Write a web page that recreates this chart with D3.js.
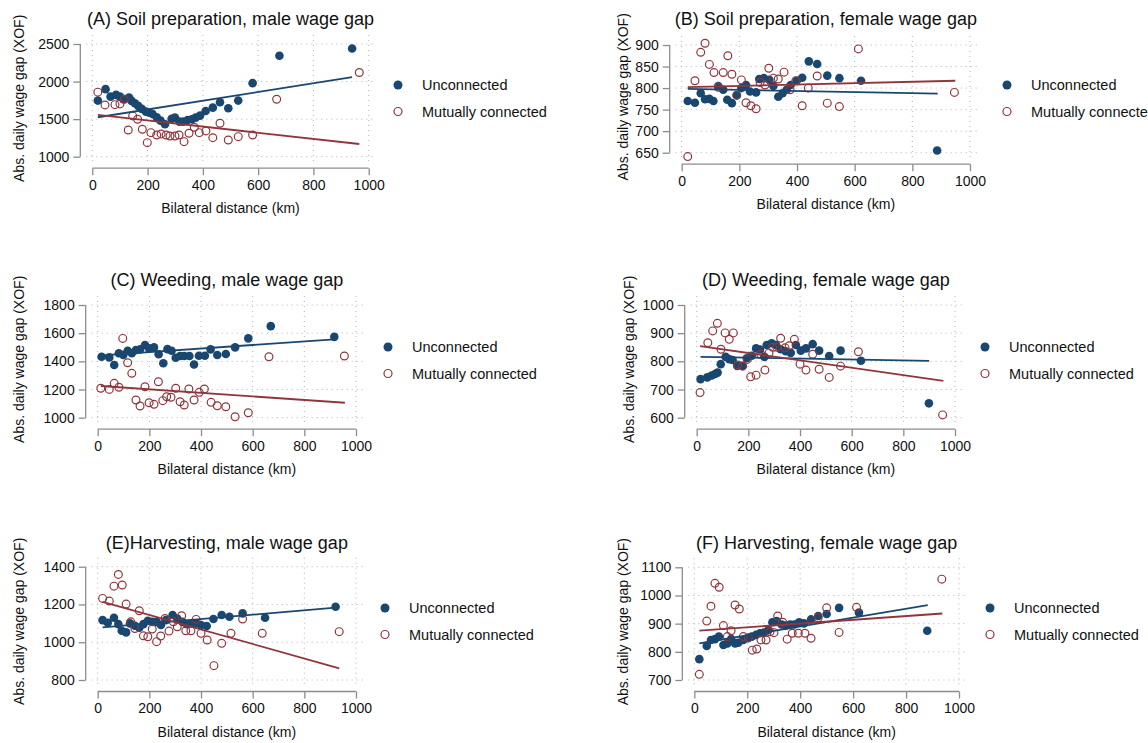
<!DOCTYPE html>
<html><head><meta charset="utf-8">
<script src="https://cdn.jsdelivr.net/npm/d3@7"></script>
<style>
body{margin:0;background:#fff}
svg text{font-family:Arial,"Liberation Sans",sans-serif;fill:#111}
</style>
</head><body>
<svg id="chart" width="1148" height="743"></svg>
<script>
// ---------------- DATA ----------------
const seriesNames = ["Unconnected", "Mutually connected"];
const xTicks = [0, 200, 400, 600, 800, 1000];
const xTitle = "Bilateral distance (km)";
const yTitle = "Abs. daily wage gap (XOF)";
const panelTitles = ["(A) Soil preparation, male wage gap", "(B) Soil preparation, female wage gap",
  "(C) Weeding, male wage gap", "(D) Weeding, female wage gap",
  "(E)Harvesting, male wage gap", "(F) Harvesting, female wage gap"];

const yTicksA = [1000, 1500, 2000, 2500];
const yTicksB = [650, 700, 750, 800, 850, 900];
const yTicksC = [1000, 1200, 1400, 1600, 1800];
const yTicksD = [600, 700, 800, 900, 1000];
const yTicksE = [800, 1000, 1200, 1400];
const yTicksF = [700, 800, 900, 1000, 1100];

const A_unconnected = [[20,1747],[48,1899],[66,1800],[86,1823],[100,1800],[112,1765],[133,1787],[142,1743],[154,1712],[166,1676],[179,1636],[194,1600],[206,1587],[218,1569],[233,1525],[247,1480],[263,1432],[287,1503],[299,1520],[315,1467],[329,1467],[345,1489],[360,1499],[374,1520],[390,1547],[410,1609],[436,1653],[462,1725],[492,1645],[528,1747],[580,1979],[677,2343],[940,2440]];
const A_mutual = [[20,1859],[46,1689],[82,1693],[100,1703],[116,1765],[130,1356],[146,1543],[164,1499],[181,1365],[199,1187],[212,1320],[233,1289],[249,1303],[267,1289],[281,1276],[299,1276],[314,1289],[332,1200],[350,1312],[369,1392],[387,1320],[411,1343],[436,1253],[462,1445],[492,1223],[528,1267],[580,1289],[667,1765],[966,2120]];
const A_fitUnconnected = [[20,1525],[940,2059]];
const A_fitMutual = [[20,1556],[966,1169]];

const B_unconnected = [[21,770],[46,766],[66,788],[81,774],[96,775],[110,770],[127,805],[144,796],[158,773],[174,765],[191,784],[207,800],[223,807],[237,792],[258,790],[269,821],[285,823],[304,819],[318,805],[335,780],[350,788],[364,796],[378,807],[399,817],[418,824],[441,862],[470,856],[505,829],[547,823],[622,817],[886,655]];
const B_mutual = [[21,641],[46,817],[66,883],[81,904],[96,855],[112,836],[127,802],[144,836],[160,875],[174,832],[191,783],[207,819],[223,766],[240,759],[258,752],[272,813],[289,807],[302,846],[318,823],[335,821],[355,837],[376,796],[396,817],[418,759],[439,800],[470,828],[505,765],[547,757],[613,891],[946,790]];
const B_fitUnconnected = [[21,798],[888,787]];
const B_fitMutual = [[21,802],[949,817]];

const C_unconnected = [[15,1433],[45,1428],[64,1374],[82,1457],[99,1445],[116,1475],[132,1457],[148,1480],[164,1485],[183,1516],[199,1492],[218,1499],[236,1450],[254,1386],[270,1487],[286,1475],[302,1426],[319,1438],[335,1438],[355,1438],[373,1378],[392,1440],[415,1440],[437,1485],[463,1445],[496,1452],[532,1499],[583,1563],[670,1650],[916,1574]];
const C_mutual = [[12,1209],[45,1201],[64,1244],[82,1216],[97,1563],[116,1390],[132,1315],[148,1126],[164,1083],[183,1220],[199,1106],[218,1095],[235,1255],[252,1121],[267,1149],[284,1145],[302,1209],[319,1113],[335,1090],[353,1204],[373,1126],[393,1180],[413,1204],[439,1109],[463,1085],[496,1078],[532,1007],[583,1035],[663,1433],[955,1438]];
const C_fitUnconnected = [[15,1443],[916,1556]];
const C_fitMutual = [[12,1225],[957,1106]];

const D_unconnected = [[15,737],[41,743],[58,750],[71,755],[81,760],[93,790],[112,816],[126,808],[139,805],[157,784],[177,784],[194,811],[213,820],[230,846],[245,842],[262,816],[271,858],[290,864],[307,858],[325,843],[345,836],[364,830],[384,858],[403,838],[423,846],[449,861],[474,838],[513,819],[557,838],[636,802],[899,651]];
const D_mutual = [[13,689],[43,866],[62,908],[80,935],[94,843],[110,901],[126,878],[142,901],[159,787],[178,783],[196,807],[209,745],[230,751],[248,825],[264,769],[280,830],[294,850],[310,850],[325,882],[342,848],[358,855],[378,878],[400,790],[423,769],[449,825],[474,772],[513,743],[557,783],[626,834],[952,610]];
const D_fitUnconnected = [[15,816],[900,802]];
const D_fitMutual = [[13,854],[955,731]];

const E_unconnected = [[19,1117],[39,1103],[63,1130],[80,1096],[93,1061],[110,1052],[125,1100],[144,1087],[161,1077],[177,1096],[194,1114],[211,1108],[228,1108],[245,1091],[264,1117],[290,1144],[308,1126],[328,1108],[345,1096],[361,1100],[381,1100],[400,1091],[422,1086],[448,1123],[480,1144],[510,1135],[561,1153],[648,1130],[921,1188]];
const E_mutual = [[19,1232],[45,1218],[63,1297],[80,1359],[95,1303],[110,1202],[128,1108],[144,1073],[161,1167],[177,1034],[194,1029],[211,1070],[228,1003],[244,1033],[261,1126],[276,1059],[293,1108],[308,1082],[325,1140],[341,1061],[361,1061],[381,1121],[400,1047],[424,1012],[450,876],[480,994],[516,1047],[561,1123],[637,1047],[935,1056]];
const E_fitUnconnected = [[19,1079],[921,1183]];
const E_fitMutual = [[19,1214],[935,862]];

const F_unconnected = [[19,774],[47,821],[63,842],[78,845],[93,854],[110,824],[125,830],[139,845],[154,830],[166,832],[185,842],[202,848],[217,854],[233,860],[248,866],[263,868],[280,877],[295,905],[311,909],[330,897],[345,893],[362,897],[378,897],[396,905],[414,901],[441,915],[468,927],[500,934],[547,956],[622,939],[880,875]];
const F_mutual = [[19,720],[47,909],[63,962],[78,1043],[94,1029],[110,893],[125,854],[139,875],[154,966],[170,952],[185,854],[204,850],[219,806],[236,810],[252,842],[271,842],[286,871],[301,868],[315,927],[334,905],[351,845],[370,866],[393,866],[418,866],[441,848],[468,921],[500,956],[547,869],[613,958],[935,1058]];
const F_fitUnconnected = [[19,830],[882,966]];
const F_fitMutual = [[19,875],[937,936]];

// ---------------- LAYOUT ----------------
const BLUE = "#1a476f", RED = "#90353b";
const panels = [
  {title: panelTitles[0], yTicks: yTicksA, unc: A_unconnected, mut: A_mutual, fu: A_fitUnconnected, fm: A_fitMutual,
   xr: [92.3, 368.7], yr: [156.7, 44], titleY: 25, yTitleX: 24, legX: 398, legY: 85},
  {title: panelTitles[1], yTicks: yTicksB, unc: B_unconnected, mut: B_mutual, fu: B_fitUnconnected, fm: B_fitMutual,
   xr: [681.7, 970], yr: [152.7, 45], titleY: 25, yTitleX: 628, legX: 1007, legY: 85},
  {title: panelTitles[2], yTicks: yTicksC, unc: C_unconnected, mut: C_mutual, fu: C_fitUnconnected, fm: C_fitMutual,
   xr: [97.7, 356], yr: [417.7, 305], titleY: 286, yTitleX: 24, legX: 388, legY: 347},
  {title: panelTitles[3], yTicks: yTicksD, unc: D_unconnected, mut: D_mutual, fu: D_fitUnconnected, fm: D_fitMutual,
   xr: [696.7, 955], yr: [417.7, 305], titleY: 286, yTitleX: 634, legX: 985, legY: 347},
  {title: panelTitles[4], yTicks: yTicksE, unc: E_unconnected, mut: E_mutual, fu: E_fitUnconnected, fm: E_fitMutual,
   xr: [97.7, 356], yr: [680, 566.7], titleY: 549, yTitleX: 24, legX: 385, legY: 608},
  {title: panelTitles[5], yTicks: yTicksF, unc: F_unconnected, mut: F_mutual, fu: F_fitUnconnected, fm: F_fitMutual,
   xr: [694.3, 959], yr: [680, 567.3], titleY: 549, yTitleX: 628, legX: 990, legY: 608}
];

const svg = d3.select("#chart");

panels.forEach(p => {
  const g = svg.append("g");
  const yMin = d3.min(p.yTicks), yMax = d3.max(p.yTicks);
  const x = d3.scaleLinear().domain([0, 1000]).range(p.xr);
  const y = d3.scaleLinear().domain([yMin, yMax]).range(p.yr);
  const gl = x(0) - 6, gr = x(1000) + 7, gt = y(yMax) - 9, gb = y(yMin) + 5;
  const axX = x(0) - 12, axY = y(yMin) + 11.5;

  // grid
  g.append("g").selectAll("line").data(p.yTicks).join("line")
    .attr("x1", gl).attr("x2", gr).attr("y1", d => y(d)).attr("y2", d => y(d))
    .attr("stroke", "#b4b4b4").attr("stroke-width", 1).attr("stroke-dasharray", "1,4");
  g.append("g").selectAll("line").data(xTicks).join("line")
    .attr("x1", d => x(d)).attr("x2", d => x(d)).attr("y1", gt).attr("y2", gb)
    .attr("stroke", "#b4b4b4").attr("stroke-width", 1).attr("stroke-dasharray", "1,4");

  // y axis
  const yAxis = d3.axisLeft(y).tickValues(p.yTicks).tickSize(7).tickPadding(4).tickFormat(d3.format("d"));
  const ya = g.append("g").attr("transform", `translate(${axX},0)`).call(yAxis);
  ya.select(".domain").attr("stroke", "#8c8c8c").attr("stroke-width", 1.3).attr("d", `M0,${y(yMax)}V${y(yMin)}`);
  ya.selectAll(".tick line").attr("stroke", "#8c8c8c").attr("stroke-width", 1.3);
  ya.selectAll(".tick text").attr("font-size", 14).attr("fill", "#111");

  // x axis
  const xAxis = d3.axisBottom(x).tickValues(xTicks).tickSize(7).tickPadding(5).tickFormat(d3.format("d"));
  const xa = g.append("g").attr("transform", `translate(0,${axY})`).call(xAxis);
  xa.select(".domain").attr("stroke", "#8c8c8c").attr("stroke-width", 1.3).attr("d", `M${x(0)},0H${x(1000)}`);
  xa.selectAll(".tick line").attr("stroke", "#8c8c8c").attr("stroke-width", 1.3);
  xa.selectAll(".tick text").attr("font-size", 14).attr("fill", "#111");

  // axis titles
  g.append("text").attr("x", (x(0) + x(1000)) / 2).attr("y", axY + 45)
    .attr("text-anchor", "middle").attr("font-size", 14).text(xTitle);
  g.append("text").attr("transform", `translate(${p.yTitleX},${(gt + gb) / 2}) rotate(-90)`)
    .attr("text-anchor", "middle").attr("font-size", 14).text(yTitle);

  // panel title
  g.append("text").attr("x", (x(0) + x(1000)) / 2).attr("y", p.titleY)
    .attr("text-anchor", "middle").attr("font-size", 18).text(p.title);

  // points
  g.append("g").selectAll("circle").data(p.unc).join("circle")
    .attr("cx", d => x(d[0])).attr("cy", d => y(d[1])).attr("r", 4.3).attr("fill", BLUE);
  g.append("g").selectAll("circle").data(p.mut).join("circle")
    .attr("cx", d => x(d[0])).attr("cy", d => y(d[1])).attr("r", 3.9)
    .attr("fill", "none").attr("stroke", RED).attr("stroke-width", 1.2);

  // fitted lines
  const line = d3.line().x(d => x(d[0])).y(d => y(d[1]));
  g.append("path").datum(p.fu).attr("d", line).attr("stroke", BLUE).attr("stroke-width", 1.8).attr("fill", "none");
  g.append("path").datum(p.fm).attr("d", line).attr("stroke", RED).attr("stroke-width", 1.8).attr("fill", "none");

  // legend
  const lg = g.append("g");
  lg.append("circle").attr("cx", p.legX).attr("cy", p.legY).attr("r", 4.5).attr("fill", BLUE);
  lg.append("text").attr("x", p.legX + 24).attr("y", p.legY).attr("dy", "0.35em").attr("font-size", 14.5).text(seriesNames[0]);
  lg.append("circle").attr("cx", p.legX).attr("cy", p.legY + 26.5).attr("r", 4).attr("fill", "none").attr("stroke", RED).attr("stroke-width", 1.2);
  lg.append("text").attr("x", p.legX + 24).attr("y", p.legY + 26.5).attr("dy", "0.35em").attr("font-size", 14.5).text(seriesNames[1]);
});
</script>
</body></html>
